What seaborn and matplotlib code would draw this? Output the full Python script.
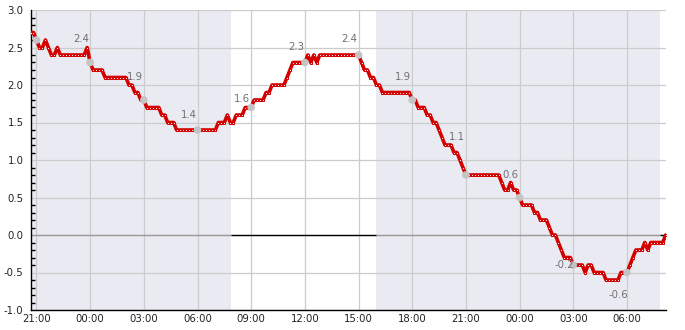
import numpy as np
import pandas as pd
import matplotlib
matplotlib.use("Agg")
import matplotlib.pyplot as plt
import matplotlib.dates as mdates
from matplotlib.ticker import MultipleLocator, FormatStrFormatter
import seaborn as sns

# ---------------- data ----------------
start_time = "2024-01-01 20:40"
sample_step = "10min"

temps = (
    [2.7, 2.7]                                   # 20:40-20:50
    + [2.6, 2.5, 2.5, 2.6, 2.5, 2.4]             # 21
    + [2.4, 2.5, 2.4, 2.4, 2.4, 2.4]             # 22
    + [2.4, 2.4, 2.4, 2.4, 2.4, 2.5]             # 23
    + [2.3, 2.2, 2.2, 2.2, 2.2, 2.1]             # 00
    + [2.1, 2.1, 2.1, 2.1, 2.1, 2.1]             # 01
    + [2.1, 2.0, 2.0, 1.9, 1.9, 1.8]             # 02
    + [1.8, 1.7, 1.7, 1.7, 1.7, 1.7]             # 03
    + [1.6, 1.6, 1.5, 1.5, 1.5, 1.4]             # 04
    + [1.4, 1.4, 1.4, 1.4, 1.4, 1.4]             # 05
    + [1.4, 1.4, 1.4, 1.4, 1.4, 1.4]             # 06
    + [1.4, 1.5, 1.5, 1.5, 1.6, 1.5]             # 07
    + [1.5, 1.6, 1.6, 1.6, 1.7, 1.7]             # 08
    + [1.7, 1.8, 1.8, 1.8, 1.8, 1.9]             # 09
    + [1.9, 2.0, 2.0, 2.0, 2.0, 2.0]             # 10
    + [2.1, 2.2, 2.3, 2.3, 2.3, 2.3]             # 11
    + [2.3, 2.4, 2.3, 2.4, 2.3, 2.4]             # 12
    + [2.4, 2.4, 2.4, 2.4, 2.4, 2.4]             # 13
    + [2.4, 2.4, 2.4, 2.4, 2.4, 2.4]             # 14
    + [2.4, 2.3, 2.2, 2.2, 2.1, 2.1]             # 15
    + [2.0, 2.0, 1.9, 1.9, 1.9, 1.9]             # 16
    + [1.9, 1.9, 1.9, 1.9, 1.9, 1.9]             # 17
    + [1.8, 1.8, 1.7, 1.7, 1.7, 1.6]             # 18
    + [1.6, 1.5, 1.5, 1.4, 1.3, 1.2]             # 19
    + [1.2, 1.2, 1.1, 1.1, 1.0, 0.9]             # 20
    + [0.8, 0.8, 0.8, 0.8, 0.8, 0.8]             # 21
    + [0.8, 0.8, 0.8, 0.8, 0.8, 0.8]             # 22
    + [0.7, 0.6, 0.6, 0.7, 0.6, 0.6]             # 23
    + [0.5, 0.4, 0.4, 0.4, 0.4, 0.3]             # 00
    + [0.3, 0.2, 0.2, 0.2, 0.1, 0.0]             # 01
    + [0.0, -0.1, -0.2, -0.3, -0.3, -0.3]        # 02
    + [-0.4, -0.4, -0.4, -0.4, -0.5, -0.4]       # 03
    + [-0.4, -0.5, -0.5, -0.5, -0.5, -0.6]       # 04
    + [-0.6, -0.6, -0.6, -0.6, -0.5, -0.5]       # 05
    + [-0.5, -0.4, -0.3, -0.2, -0.2, -0.2]       # 06
    + [-0.1, -0.2, -0.1, -0.1, -0.1, -0.1]       # 07
    + [-0.1, 0.0]                                # 08:00-08:10
)

marker_times = pd.date_range("2024-01-01 21:00", "2024-01-03 06:00", freq="3h")

label_times = pd.date_range("2024-01-02 00:00", "2024-01-03 06:00", freq="3h")
label_values = [2.4, 1.9, 1.4, 1.6, 2.3, 2.4, 1.9, 1.1, 0.6, -0.2, -0.6]
label_shift = pd.Timedelta("30min")

sunrise_times = ["2024-01-02 07:52", "2024-01-03 07:52"]
sunset_times = ["2024-01-02 16:00"]

x_start = "2024-01-01 20:40"
x_end = "2024-01-03 08:11"
y_min, y_max = -1.0, 3.0

# ---------------- styling ----------------
RED = "#d40000"
NIGHT = "#eaeaf2"
GRID = "#cccccc"
DOT = "#c4c4c4"
LABEL = "#707070"

sns.set_theme(style="white")
plt.rcParams["font.family"] = ["DejaVu Sans"]
plt.rcParams["axes.unicode_minus"] = False

df = pd.DataFrame({
    "time": pd.date_range(start_time, periods=len(temps), freq=sample_step),
    "temp": temps,
})

fig = plt.figure(figsize=(6.85, 3.3), dpi=100)
ax = fig.add_axes([30.5 / 685, 20 / 330, (666 - 30.5) / 685, 300 / 330])
ax.set_facecolor("white")

xs, xe = pd.Timestamp(x_start), pd.Timestamp(x_end)
sr = [pd.Timestamp(t) for t in sunrise_times]
ss = [pd.Timestamp(t) for t in sunset_times]
nights = [(xs, sr[0]), (ss[0], sr[1])]
days = [(sr[0], ss[0]), (sr[1], xe)]

for a, b in nights:
    ax.axvspan(a, b, color=NIGHT, lw=0, zorder=0.1)
    ax.hlines(0, a, b, color="#9a9a9a", lw=1, zorder=0.7)
for a, b in days:
    ax.hlines(0, a, b, color="black", lw=1, zorder=0.7)

ax.set_axisbelow(True)
ax.grid(True, which="major", color=GRID, lw=0.9)

sns.lineplot(data=df, x="time", y="temp", ax=ax, color=RED)
temp_line = ax.get_lines()[-1]
temp_line.set_linewidth(2.6)
temp_line.set_color(RED)
temp_line.set_marker("s")
temp_line.set_markersize(1.9)
temp_line.set_markerfacecolor("white")
temp_line.set_markeredgecolor(RED)
temp_line.set_markeredgewidth(0.75)
temp_line.set_zorder(3)

dots = df[df["time"].isin(marker_times)]
sns.scatterplot(data=dots, x="time", y="temp", ax=ax, color=DOT, s=30,
                edgecolor="none", zorder=4)

for t, v in zip(label_times, label_values):
    off = 15.5 if v >= 0 else -15.5
    ax.annotate(f"{v:.1f}", xy=(t - label_shift, v), xytext=(0, off),
                textcoords="offset pixels", ha="center", va="center",
                fontsize=7.3, color=LABEL, zorder=5)

ax.set_xlim(xs, xe)
ax.set_ylim(y_min, y_max)
ax.xaxis.set_major_locator(mdates.HourLocator(byhour=range(0, 24, 3)))
ax.xaxis.set_major_formatter(mdates.DateFormatter("%H:%M"))
ax.yaxis.set_major_locator(MultipleLocator(0.5))
ax.yaxis.set_minor_locator(MultipleLocator(0.1))
ax.yaxis.set_major_formatter(FormatStrFormatter("%.1f"))

ax.tick_params(axis="both", which="major", direction="in", length=5, width=1,
               color="black", labelsize=7.3, labelcolor="#222222")
ax.tick_params(axis="y", which="major", pad=5)
ax.tick_params(axis="x", which="major", pad=3)
ax.tick_params(axis="y", which="minor", direction="in", length=3, width=1,
               color="black", left=True)

for s in ["top", "right"]:
    ax.spines[s].set_visible(False)
for s in ["left", "bottom"]:
    ax.spines[s].set_visible(True)
    ax.spines[s].set_color("black")
    ax.spines[s].set_linewidth(1)

ax.set_xlabel("")
ax.set_ylabel("")

fig.savefig("out.png", dpi=100)
